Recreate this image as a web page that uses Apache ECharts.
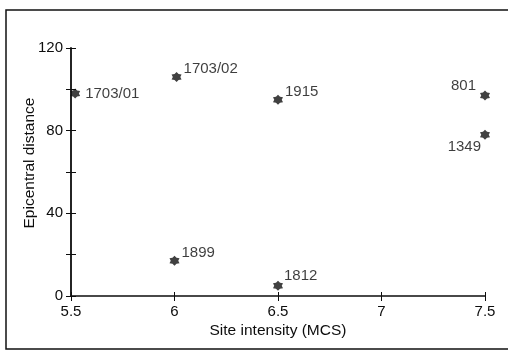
<!DOCTYPE html>
<html>
<head>
<meta charset="utf-8">
<script src="https://cdn.jsdelivr.net/npm/echarts@6/dist/echarts.min.js"></script>
<style>
html, body { margin: 0; padding: 0; background: #fff; }
#chart { width: 508px; height: 352px; }
</style>
</head>
<body>
<div id="chart"></div>
<script>
// 地震事件名称
var eventNames = ['1703/01', '1703/02', '1915', '801', '1349', '1899', '1812'];
// 场地烈度 (MCS)
var siteIntensity = [5.52, 6.01, 6.5, 7.5, 7.5, 6.0, 6.5];
// 震中距
var epicentralDistance = [98, 106, 95, 97, 78, 17, 5];
// 坐标轴刻度
var xTicks = [5.5, 6, 6.5, 7, 7.5];
var yLabelTicks = [0, 40, 80, 120];

var font = '"Liberation Sans", Arial, sans-serif';
var ink = '#0d0d0d';

// 标签位置
var labelPlace = {
	'1703/01': { position: 'right', distance: 5, offset: [0, 0] },
	'1703/02': { position: 'right', distance: 2, offset: [0, -8] },
	'1915': { position: 'right', distance: 2, offset: [0, -8] },
	'801': { position: 'left', distance: 4, offset: [0, -10] },
	'1349': { position: 'left', distance: -1, offset: [0, 12] },
	'1899': { position: 'right', distance: 2, offset: [0, -8] },
	'1812': { position: 'right', distance: 1, offset: [0, -10] }
};

var star = 'path://M100,0L135,40L186.6,50L165,100L186.6,150L135,160L100,200L65,160L13.4,150L35,100L13.4,50L65,40Z';

var points = [];
for (var i = 0; i < eventNames.length; i++) {
	var p = labelPlace[eventNames[i]];
	points.push({
		name: eventNames[i],
		value: [siteIntensity[i], epicentralDistance[i]],
		label: {
			show: true,
			formatter: '{b}',
			position: p.position,
			distance: p.distance,
			offset: p.offset,
			color: ink,
			fontSize: 15,
			fontFamily: font
		}
	});
}

var chart = echarts.init(document.getElementById('chart'));
var baseX = {
	type: 'value',
	min: 5.5,
	max: 7.5,
	interval: 0.5,
	splitLine: { show: false }
};
var baseY = {
	type: 'value',
	min: 0,
	max: 120,
	interval: 20,
	splitLine: { show: false }
};
var option = {
	animation: false,
	backgroundColor: '#fff',
	grid: { left: 71, right: 23, top: 48, bottom: 56 },
	graphic: [{
		type: 'rect',
		shape: { x: 6, y: 10, width: 520, height: 339 },
		style: { fill: 'none', stroke: '#111', lineWidth: 1.5 },
		silent: true
	}],
	xAxis: [
		Object.assign({}, baseX, {
			position: 'bottom',
			name: 'Site intensity (MCS)',
			nameLocation: 'middle',
			nameGap: 27,
			nameMoveOverlap: false,
			nameTextStyle: { color: ink, fontSize: 15.5, fontFamily: font },
			axisLine: { onZero: false, lineStyle: { color: ink, width: 1.5 } },
			axisTick: { length: 5, lineStyle: { color: ink } },
			axisLabel: {
				margin: 8,
				color: ink,
				fontSize: 15,
				fontFamily: font,
				formatter: function(v) {
					return xTicks.indexOf(v) >= 0 ? String(v) : '';
				}
			}
		}),
		Object.assign({}, baseX, {
			position: 'bottom',
			axisLine: { show: false, onZero: false },
			axisTick: { inside: true, length: 4, lineStyle: { color: ink } },
			axisLabel: { show: false }
		})
	],
	yAxis: [
		Object.assign({}, baseY, {
			position: 'left',
			name: 'Epicentral distance',
			nameLocation: 'middle',
			nameGap: 33,
			nameMoveOverlap: false,
			nameTextStyle: { color: ink, fontSize: 15.5, fontFamily: font, padding: [0, 0, 0, 18] },
			axisLine: { onZero: false, lineStyle: { color: ink, width: 1.8 } },
			axisTick: { length: 5, lineStyle: { color: ink } },
			axisLabel: {
				margin: 8,
				color: ink,
				fontSize: 15,
				fontFamily: font,
				formatter: function(v) {
					return yLabelTicks.indexOf(v) >= 0 ? String(v) : '';
				}
			}
		}),
		Object.assign({}, baseY, {
			position: 'left',
			axisLine: { show: false, onZero: false },
			axisTick: { inside: true, length: 5, lineStyle: { color: ink } },
			axisLabel: { show: false }
		})
	],
	series: [{
		type: 'scatter',
		symbol: star,
		symbolSize: 10,
		itemStyle: { color: '#111' },
		data: points
	}]
};
chart.setOption(option);
</script>
</body>
</html>
